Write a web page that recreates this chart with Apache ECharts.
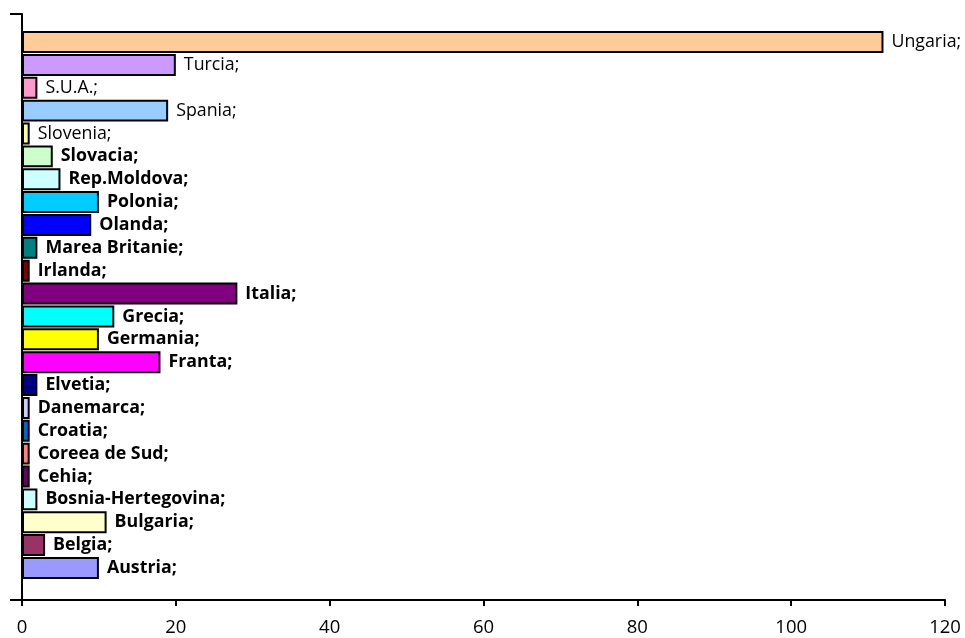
<!DOCTYPE html>
<html>
<head>
<meta charset="utf-8">
<script src="https://cdn.jsdelivr.net/npm/echarts@6/dist/echarts.min.js"></script>
<style>
html,body{margin:0;padding:0;background:#fff;}
#c{width:965px;height:638px;}
</style>
</head>
<body>
<div id="c"></div>
<script>
// Categories bottom to top
const categories = ['Austria','Belgia','Bulgaria','Bosnia-Hertegovina','Cehia','Coreea de Sud','Croatia','Danemarca','Elvetia','Franta','Germania','Grecia','Italia','Irlanda','Marea Britanie','Olanda','Polonia','Rep.Moldova','Slovacia','Slovenia','Spania','S.U.A.','Turcia','Ungaria'];
const values = [10, 3, 11, 2, 1, 1, 1, 1, 2, 18, 10, 12, 28, 1, 2, 9, 10, 5, 4, 1, 19, 2, 20, 112];
const xTicks = [0, 20, 40, 60, 80, 100, 120];

// styles
const palette = ['#9999FF','#993366','#FFFFCC','#CCFFFF','#660066','#FF8080','#0066CC','#CCCCFF','#000080','#FF00FF','#FFFF00','#00FFFF','#800080','#800000','#008080','#0000FF','#00CCFF','#CCFFFF','#CCFFCC','#FFFF99','#99CCFF','#FF99CC','#CC99FF','#FFCC99'];
const labelWeights = ['bold','bold','bold','bold','bold','bold','bold','bold','bold','bold','bold','bold','bold','bold','bold','bold','bold','bold','bold','normal','normal','normal','normal','normal'];

const FONT = '"Open Sans", sans-serif';
const chart = echarts.init(document.getElementById('c'), null, {renderer: 'canvas'});
chart.setOption({
  animation: false,
  backgroundColor: '#fff',
  grid: [
    {left: 22, right: 20, top: 14, bottom: 38},
    {left: 22, right: 20, top: 30.6, bottom: 58.6}
  ],
  xAxis: [
    {
      type: 'value', gridIndex: 0, min: xTicks[0], max: xTicks[xTicks.length - 1], interval: 20,
      axisLine: {show: true, lineStyle: {color: '#000', width: 2}},
      axisTick: {show: true, length: 6, lineStyle: {color: '#000', width: 2}},
      axisLabel: {color: '#000', fontSize: 18.5, fontFamily: FONT, margin: 18},
      splitLine: {show: false}
    },
    {type: 'value', gridIndex: 1, min: xTicks[0], max: xTicks[xTicks.length - 1], show: false, splitLine: {show: false}}
  ],
  yAxis: [
    {
      type: 'value', gridIndex: 0, min: 0, max: 1, interval: 1,
      axisLine: {show: true, lineStyle: {color: '#000', width: 2}},
      axisTick: {show: true, length: 12, lineStyle: {color: '#000', width: 2}},
      axisLabel: {show: false},
      splitLine: {show: false}
    },
    {type: 'category', gridIndex: 1, data: categories, show: false}
  ],
  series: [{
    type: 'bar',
    xAxisIndex: 1, yAxisIndex: 1,
    barCategoryGap: '4%',
    data: values.map((v, i) => ({
      value: v,
      itemStyle: {color: palette[i], borderColor: '#000', borderWidth: 2},
      label: {fontWeight: labelWeights[i]}
    })),
    label: {
      show: true, position: 'right', distance: 8,
      formatter: '{b};', color: '#000', fontSize: 17.8, fontFamily: FONT
    }
  }]
});
</script>
</body>
</html>
